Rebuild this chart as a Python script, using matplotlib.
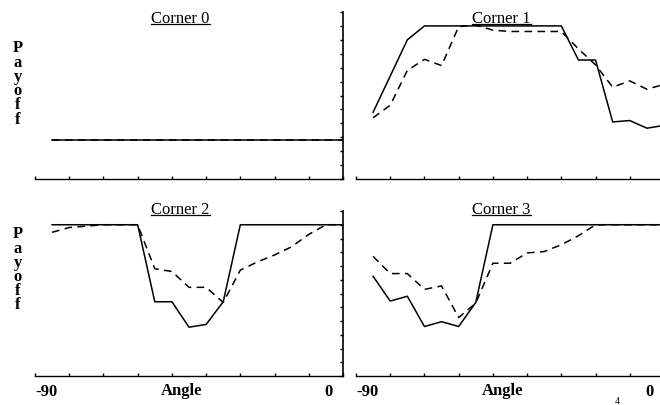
import numpy as np
import matplotlib.pyplot as plt
from matplotlib.lines import Line2D

plt.rcParams['font.family'] = ['Liberation Serif', 'DejaVu Serif']

angles = [-85, -80, -75, -70, -65, -60, -55, -50, -45, -40, -35, -30, -25, -20, -15, -10, -5, 0]

corner0_solid = [2.8, 2.8, 2.8, 2.8, 2.8, 2.8, 2.8, 2.8, 2.8, 2.8, 2.8, 2.8, 2.8, 2.8, 2.8, 2.8, 2.8, 2.8]
corner0_dashed = [2.8, 2.8, 2.8, 2.8, 2.8, 2.8, 2.8, 2.8, 2.8, 2.8, 2.8, 2.8, 2.8, 2.8, 2.8, 2.8, 2.8, 2.8]

corner1_solid = [4.8, 7.4, 10.0, 11, 11, 11, 11, 11, 11, 11, 11, 11, 8.55, 8.55, 4.1, 4.2, 3.65, 3.85]
corner1_dashed = [4.4, 5.3, 7.8, 8.6, 8.15, 10.95, 11.05, 10.7, 10.6, 10.6, 10.6, 10.6, 9.35, 8.2, 6.6, 7.05, 6.45, 6.8]

corner2_solid = [11, 11, 11, 11, 11, 11, 5.4, 5.4, 3.55, 3.75, 5.4, 11, 11, 11, 11, 11, 11, 11]
corner2_dashed = [10.45, 10.8, 10.9, 11, 11, 11, 7.8, 7.6, 6.45, 6.45, 5.35, 7.7, 8.3, 8.8, 9.4, 10.3, 11, 11]

corner3_solid = [7.25, 5.45, 5.8, 3.6, 3.95, 3.6, 5.35, 11, 11, 11, 11, 11, 11, 11, 11, 11, 11, 11]
corner3_dashed = [8.7, 7.45, 7.45, 6.3, 6.55, 4.25, 5.3, 8.2, 8.2, 8.95, 9.05, 9.55, 10.2, 11, 11, 11, 11, 11]

titles = ['Corner 0', 'Corner 1', 'Corner 2', 'Corner 3']
solids = [corner0_solid, corner1_solid, corner2_solid, corner3_solid]
dashes = [corner0_dashed, corner1_dashed, corner2_dashed, corner3_dashed]
xticks = [-90, -80, -70, -60, -50, -40, -30, -20, -10, 0]
end_labels = [(-90, '-90'), (0, '0')]

W, H = 660, 406
fig = plt.figure(figsize=(W / 100, H / 100), dpi=100)

# axes boxes in pixels: left, top, right, bottom
boxes = [(35, 13, 343, 180), (356, 13, 664, 180),
         (35, 212, 343, 377), (356, 212, 664, 377)]

title_texts = []
for i, (l, t, r, b) in enumerate(boxes):
    ax = fig.add_axes([l / W, 1 - b / H, (r - l) / W, (b - t) / H])
    ax.plot(angles, solids[i], color='black', lw=1.1)
    ax.plot(angles, dashes[i], color='black', lw=1.1, linestyle=(0, (5, 3.5)))
    ax.set_xlim(-90, 0)
    ax.set_ylim(0, 12)
    ax.spines['top'].set_visible(False)
    ax.spines['right'].set_visible(False)
    ax.spines['bottom'].set_linewidth(1.0)
    ax.set_xticks(xticks)
    ax.set_xticklabels([])
    ax.tick_params(axis='x', direction='in', length=2.5, width=1.0)
    if i % 2 == 0:
        ax.spines['left'].set_visible(False)
        ax.set_yticks([])
    else:
        ax.spines['left'].set_position(('outward', 9.4))
        ax.spines['left'].set_linewidth(1.2)
        ax.set_yticks(range(0, 13))
        ax.set_yticklabels([])
        ax.tick_params(axis='y', direction='out', length=2, width=1.0)
    if i >= 2:
        for xv, s in end_labels:
            ha = 'left' if xv < -45 else 'right'
            dx = 0 if xv < -45 else -7.5
            ax.annotate(s, xy=(xv, 0), xycoords=('data', 'axes fraction'),
                        xytext=(dx, -5), textcoords='offset points',
                        ha=ha, va='top', fontsize=12, fontweight='bold')
        ax.set_xlabel('Angle', fontsize=12, fontweight='bold')
        ax.xaxis.set_label_coords(0.475, -0.035)
        ty = 0.986
    else:
        ty = 0.942
    tt = ax.text(0.473, ty, titles[i], transform=ax.transAxes, ha='center',
                 va='baseline', fontsize=12)
    title_texts.append(tt)

for yc in [84, 270]:
    fig.text(18 / W, 1 - yc / H, 'P\na\ny\no\nf\nf', ha='center', va='center',
             fontsize=12, fontweight='bold', linespacing=0.85)

fig.text(617 / W, 1 - 397 / H, '4', ha='center', va='top', fontsize=7)

# underline the panel titles
fig.canvas.draw()
renderer = fig.canvas.get_renderer()
for tt in title_texts:
    bb = tt.get_window_extent(renderer)
    y = bb.y0 + 2
    fig.add_artist(Line2D([bb.x0, bb.x1], [y, y], transform=None,
                          color='black', lw=0.9))

fig.savefig('out.png', dpi=100)
